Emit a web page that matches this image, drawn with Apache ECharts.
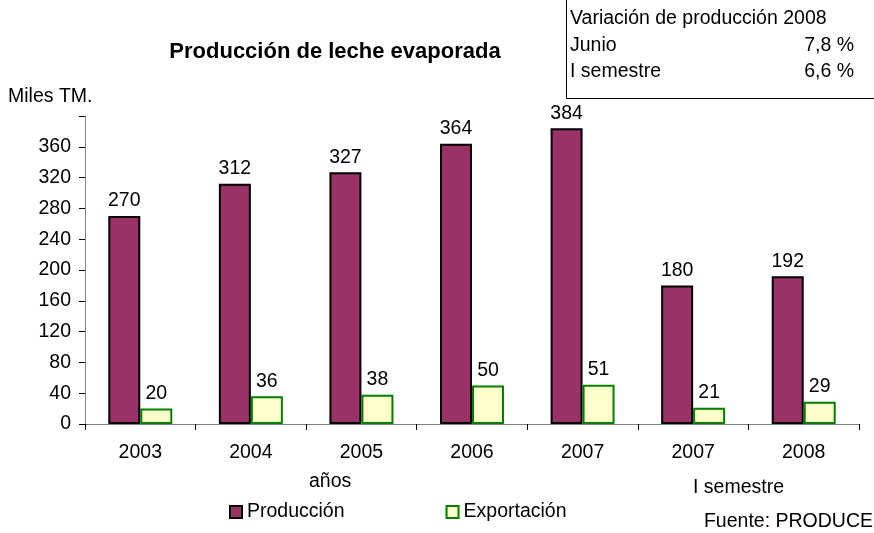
<!DOCTYPE html>
<html>
<head>
<meta charset="utf-8">
<script src="https://cdn.jsdelivr.net/npm/echarts@6/dist/echarts.min.js"></script>
<style>
  html, body { margin: 0; padding: 0; background: #fff; }
  #main { width: 874px; height: 533px; }
</style>
</head>
<body>
<div id="main"></div>
<script>
var years = ['2003', '2004', '2005', '2006', '2007', '2007', '2008'];
var produccion = [270, 312, 327, 364, 384, 180, 192];
var exportacion = [20, 36, 38, 50, 51, 21, 29];
var variacion = [['Junio', '7,8 %'], ['I semestre', '6,6 %']];

var font = 'Liberation Sans, Arial, sans-serif';
var fs = 19.5;
var txt = fs + 'px ' + font;
var myChart = echarts.init(document.getElementById('main'));
var option = {
    backgroundColor: '#fff',
    textStyle: { fontFamily: font },
    animation: false,
    title: {
        text: 'Producción de leche evaporada',
        left: 330,
        textAlign: 'center',
        top: 36,
        textStyle: { fontSize: 22, fontWeight: 'bold', color: '#000', fontFamily: font }
    },
    legend: {
        left: 224,
        top: 497,
        icon: 'rect',
        itemWidth: 12,
        itemHeight: 12,
        itemGap: 101,
        textStyle: { fontSize: fs, color: '#000', fontFamily: font },
        data: ['Producción', 'Exportación']
    },
    grid: { left: 85, right: 15, top: 116, bottom: 109 },
    xAxis: {
        type: 'category',
        data: years,
        axisLine: { lineStyle: { color: '#808080' } },
        axisTick: { show: true, lineStyle: { color: '#000' }, length: 6 },
        axisLabel: { color: '#000', fontSize: fs, margin: 19, fontFamily: font }
    },
    yAxis: {
        type: 'value',
        min: 0,
        max: 400,
        interval: 40,
        splitLine: { show: false },
        axisLine: { show: true, lineStyle: { color: '#808080' } },
        axisTick: { show: true, length: 6, lineStyle: { color: '#000' } },
        axisLabel: {
            color: '#000', fontSize: fs, margin: 14, fontFamily: font,
            formatter: function (v) { return v === 400 ? '' : v; }
        }
    },
    series: [
        {
            name: 'Producción',
            type: 'bar',
            barWidth: 32,
            barGap: '0%',
            data: produccion,
            itemStyle: { color: '#993366', borderColor: '#000', borderWidth: 2 },
            label: { show: true, position: 'top', distance: 5, color: '#000', fontSize: fs, fontFamily: font }
        },
        {
            name: 'Exportación',
            type: 'bar',
            barWidth: 32,
            data: exportacion,
            itemStyle: { color: '#FFFFCC', borderColor: '#008000', borderWidth: 2 },
            label: { show: true, position: 'top', distance: 5, color: '#000', fontSize: fs, fontFamily: font }
        }
    ],
    graphic: [
        { type: 'text', left: 8, top: 87, style: { text: 'Miles TM.', fill: '#000', font: txt } },
        { type: 'text', left: 309, top: 472, style: { text: 'años', fill: '#000', font: txt } },
        { type: 'text', left: 693, top: 478, style: { text: 'I semestre', fill: '#000', font: txt } },
        { type: 'text', right: 1, top: 512, style: { text: 'Fuente: PRODUCE', fill: '#000', font: txt } },
        { type: 'rect', shape: { x: 566.5, y: -1, width: 310, height: 99.5 }, style: { fill: '#fff', stroke: '#000', lineWidth: 1 } },
        { type: 'text', left: 570, top: 9, style: { text: 'Variación de producción 2008', fill: '#000', font: txt } },
        { type: 'text', left: 570, top: 36, style: { text: variacion[0][0], fill: '#000', font: txt } },
        { type: 'text', right: 20, top: 36, style: { text: variacion[0][1], fill: '#000', font: txt } },
        { type: 'text', left: 570, top: 62, style: { text: variacion[1][0], fill: '#000', font: txt } },
        { type: 'text', right: 20, top: 62, style: { text: variacion[1][1], fill: '#000', font: txt } }
    ]
};
myChart.setOption(option);
</script>
</body>
</html>
